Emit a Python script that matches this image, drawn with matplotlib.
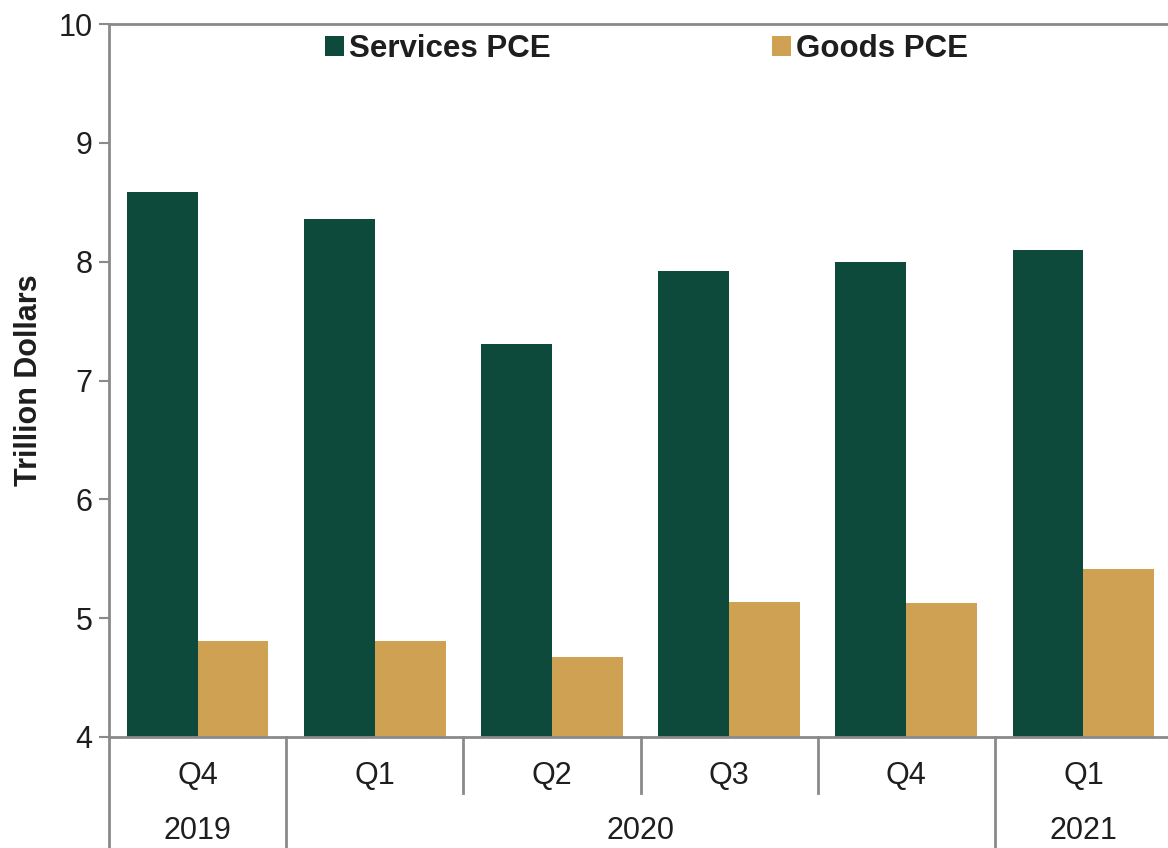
import matplotlib
matplotlib.use("Agg")
import matplotlib.pyplot as plt
from matplotlib.patches import Patch
import numpy as np

plt.rcParams['font.family'] = ['Liberation Sans', 'DejaVu Sans']

quarters = ["Q4", "Q1", "Q2", "Q3", "Q4", "Q1"]
years = ["2019", "2020", "2021"]
year_spans = [(0, 0), (1, 4), (5, 5)]
services = [8.59, 8.36, 7.31, 7.92, 8.00, 8.10]
goods = [4.81, 4.81, 4.67, 5.14, 5.13, 5.41]
series_names = ["Services PCE", "Goods PCE"]

c_serv = "#0d4a3b"
c_goods = "#cfa153"
spine_c = "#8a8a8a"
txt_c = "#1e1e1e"

W, H = 1168, 848
fig = plt.figure(figsize=(W / 100, H / 100), dpi=100)
ax = fig.add_axes([109 / W, 1 - 737 / H, (1172 - 109) / W, (737 - 24) / H])

x = np.arange(len(quarters))
bw = 0.4
ax.bar(x - bw / 2, services, width=bw, color=c_serv, bottom=0, zorder=2)
ax.bar(x + bw / 2, goods, width=bw, color=c_goods, bottom=0, zorder=2)

ax.set_xlim(-0.5, len(quarters) - 0.5)
ax.set_ylim(4, 10)
ax.set_yticks(range(4, 11))
ax.tick_params(axis='y', labelsize=22, length=7, width=1.5, color=spine_c,
               labelcolor=txt_c, pad=5)
ax.set_xticks([])

for s in ['top', 'left', 'bottom']:
    ax.spines[s].set_color(spine_c)
    ax.spines[s].set_linewidth(2)
ax.spines['right'].set_visible(False)

ax.set_ylabel("Trillion Dollars", fontsize=22, fontweight='bold', color=txt_c,
              labelpad=10)

tr = ax.get_xaxis_transform()
q_bottom = (737 - 793) / 713
fig_bottom = -0.2
# category labels
for i, q in enumerate(quarters):
    ax.text(i, (737 - 776) / 713, q, transform=tr, ha='center', va='center',
            fontsize=22, color=txt_c, clip_on=False)
for yr, (a, b) in zip(years, year_spans):
    ax.text((a + b) / 2, (737 - 831) / 713, yr, transform=tr, ha='center',
            va='center', fontsize=22, color=txt_c, clip_on=False)
# dividers
group_edges = {round(a - 0.5, 1) for a, b in year_spans} | {round(b + 0.5, 1) for a, b in year_spans}
for e in np.arange(-0.5, len(quarters), 1.0):
    y0 = fig_bottom if round(e, 1) in group_edges else q_bottom
    ax.plot([e, e], [0, y0], transform=tr, color=spine_c, lw=2, clip_on=False)

handles = [Patch(facecolor=c_serv), Patch(facecolor=c_goods)]
ax.legend(handles, series_names, loc='center left',
          bbox_to_anchor=(325 / W, 1 - 49 / H), bbox_transform=fig.transFigure,
          ncol=2, frameon=False, prop={'size': 22.5, 'weight': 'bold'},
          handlelength=0.6, handleheight=0.6, handletextpad=0.16,
          columnspacing=7.1, borderpad=0, borderaxespad=0, labelcolor=txt_c)

fig.savefig("out.png", dpi=100)
